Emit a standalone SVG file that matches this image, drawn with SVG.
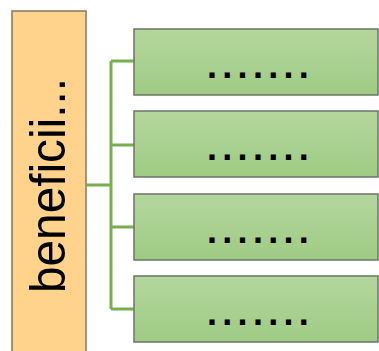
<svg xmlns="http://www.w3.org/2000/svg" width="379" height="351" viewBox="0 0 379 351">
<defs>
<linearGradient id="g" x1="0" y1="0" x2="0" y2="1">
<stop offset="0" stop-color="#B4D69E"/>
<stop offset="1" stop-color="#9FCB84"/>
</linearGradient>
<style>
.box{fill:url(#g);stroke:#6B7566;stroke-width:1.5}
.dots{font-family:"Liberation Sans",Arial,sans-serif;font-weight:bold;font-size:36px;letter-spacing:5.3px;fill:#000}
.conn{stroke:#78AE50;stroke-width:3;fill:none}
</style>
</defs>
<rect width="379" height="351" fill="#fff"/>
<g id="root">
<rect x="12" y="11" width="74" height="342" fill="#FFD38C" stroke="#857860" stroke-width="1.5"/>
<text transform="translate(65,293) rotate(-90)" x="0" y="0" font-family="Liberation Sans,Arial,sans-serif" font-size="50" textLength="215" lengthAdjust="spacingAndGlyphs" fill="#000">beneficii...</text>
</g>
<g id="connectors">
<path class="conn" d="M86 185H111M111 61V309M111 61H134M111 145H134M111 227H134M111 309H134"/>
</g>
<g id="n1"><rect class="box" x="134" y="29" width="244" height="66"/><text class="dots" x="207" y="78">.......</text></g>
<g id="n2"><rect class="box" x="134" y="111" width="244" height="66"/><text class="dots" x="207" y="160">.......</text></g>
<g id="n3"><rect class="box" x="134" y="194" width="244" height="66"/><text class="dots" x="207" y="243">.......</text></g>
<g id="n4"><rect class="box" x="134" y="276" width="244" height="66"/><text class="dots" x="207" y="325">.......</text></g>
</svg>
